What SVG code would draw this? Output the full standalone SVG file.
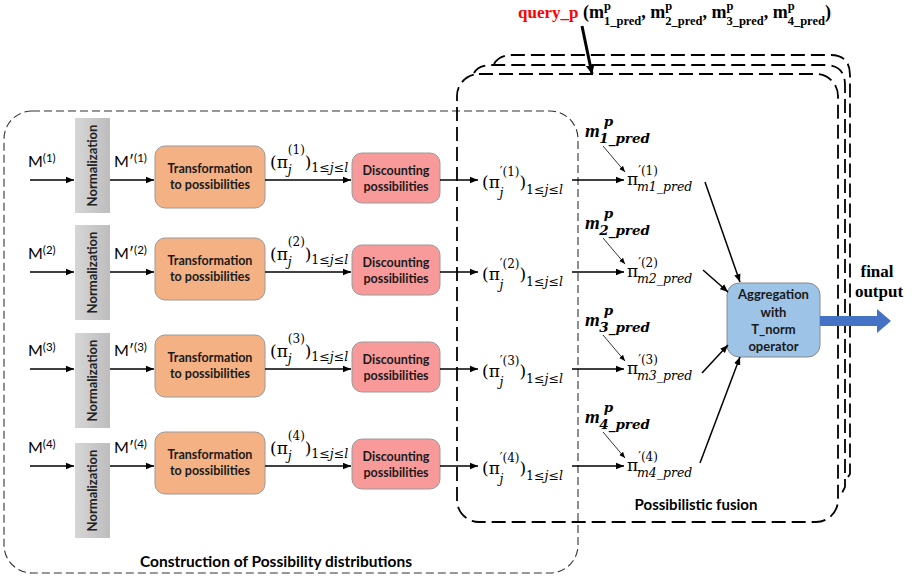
<svg xmlns="http://www.w3.org/2000/svg" width="921" height="582" viewBox="0 0 921 582">
<defs>
<linearGradient id="gray" x1="0" y1="0" x2="1" y2="0">
<stop offset="0" stop-color="#d6d6d6"/><stop offset="1" stop-color="#bdbdbd"/>
</linearGradient>
<marker id="ah" markerUnits="userSpaceOnUse" markerWidth="9" markerHeight="8" refX="8" refY="4" orient="auto">
<path d="M0,0.8 L8,4 L0,7.2 Z" fill="#000"/>
</marker>
<marker id="ahs" markerUnits="userSpaceOnUse" markerWidth="7" markerHeight="6" refX="6" refY="3" orient="auto">
<path d="M0,0.5 L6,3 L0,5.5 Z" fill="#000"/>
</marker>
<marker id="ahb" markerUnits="userSpaceOnUse" markerWidth="10" markerHeight="10" refX="9" refY="5" orient="auto">
<path d="M0,0.5 L9,5 L0,9.5 Z" fill="#000"/>
</marker>
</defs>
<style>
.norm{fill:url(#gray);}
.normt{font-family:Lato,"Liberation Sans",sans-serif;font-weight:bold;font-size:13px;fill:#222;text-anchor:middle;}
.trans{fill:#F4B183;stroke:#9a9a9a;stroke-width:1;}
.disc{fill:#F99A9A;stroke:#9a9a9a;stroke-width:1;}
.agg{fill:#9DC3E6;stroke:#8a8a8a;stroke-width:1;}
.bt{font-family:Lato,"Liberation Sans",sans-serif;font-weight:bold;font-size:12.5px;fill:#1a1a1a;text-anchor:middle;}
.bta{font-family:Lato,"Liberation Sans",sans-serif;font-weight:bold;font-size:13px;fill:#1a1a1a;text-anchor:middle;}
.ml{font-family:Lato,"Liberation Sans",sans-serif;font-size:16px;fill:#000;}
.mls{font-family:Lato,"Liberation Sans",sans-serif;font-size:11.5px;fill:#000;}
.mt{font-family:"DejaVu Serif",serif;font-size:17px;fill:#000;}
.sp{font-size:12px;}
.sb{font-size:12.5px;}
.it{font-style:italic;}
.mb{font-family:"Liberation Serif","DejaVu Serif",serif;font-size:19px;font-weight:bold;font-style:italic;fill:#000;}
.mbs{font-family:"DejaVu Serif",serif;font-size:13.5px;}
.tq{font-family:"Liberation Serif","DejaVu Serif",serif;font-size:18px;font-weight:bold;fill:#000;}
.tqs{font-size:12.5px;}
.lab{font-family:Lato,"Liberation Sans",sans-serif;font-weight:bold;font-size:15px;fill:#000;text-anchor:middle;}
.ln{stroke:#000;stroke-width:1.5;fill:none;}
.lns{stroke:#000;stroke-width:0.8;fill:none;}
.fr1{fill:none;stroke:#333;stroke-width:1.1;stroke-dasharray:8 4;}
.fr2{fill:none;stroke:#000;stroke-width:1.8;stroke-dasharray:14 6;}
</style>
<rect width="921" height="582" fill="#fff"/>

<!-- frames -->
<g id="construction-frame">
<rect class="fr1" x="4" y="111" width="574" height="462" rx="28"/>
<text class="lab" x="276" y="567" textLength="272" lengthAdjust="spacingAndGlyphs">Construction of Possibility distributions</text>
</g>
<g id="fusion-frame">
<path class="fr2" d="M494,64 Q499,55 512,55 L830,55 Q850,55 850,75 L850,474 L846,480"/>
<path class="fr2" d="M474,73 Q478,65 492,65 L825,65 Q845,65 845,85 L845,487 L840,497"/>
<rect class="fr2" x="457" y="74" width="381" height="448" rx="22"/>
<text class="lab" x="696" y="510">Possibilistic fusion</text>
</g>

<!-- top query -->
<g id="query">
<text x="518" y="18" font-family="Liberation Serif, DejaVu Serif, serif" font-size="17" font-weight="bold" fill="#FF0000">query_p</text>
<text class="tq" x="583" y="18">(m<tspan class="tqs" dy="-8">p</tspan><tspan class="tqs" dx="-7" dy="15">1_pred</tspan><tspan dy="-7">, m</tspan><tspan class="tqs" dy="-8">p</tspan><tspan class="tqs" dx="-7" dy="15">2_pred</tspan><tspan dy="-7">, m</tspan><tspan class="tqs" dy="-8">p</tspan><tspan class="tqs" dx="-7" dy="15">3_pred</tspan><tspan dy="-7">, m</tspan><tspan class="tqs" dy="-8">p</tspan><tspan class="tqs" dx="-7" dy="15">4_pred</tspan><tspan dy="-7">)</tspan></text>
</g>

<!-- normalization nodes -->
<g id="norm1"><rect class="norm" x="75" y="118" width="35" height="95"/><text class="normt" transform="translate(97,165.5) rotate(-90)">Normalization</text></g>
<g id="norm2"><rect class="norm" x="75" y="225" width="35" height="95"/><text class="normt" transform="translate(97,272.5) rotate(-90)">Normalization</text></g>
<g id="norm3"><rect class="norm" x="75" y="333" width="35" height="95"/><text class="normt" transform="translate(97,380.5) rotate(-90)">Normalization</text></g>
<g id="norm4"><rect class="norm" x="75" y="443" width="35" height="95"/><text class="normt" transform="translate(97,490.5) rotate(-90)">Normalization</text></g>

<!-- transformation nodes -->
<g id="trans1" transform="translate(0,180)"><rect class="trans" x="155" y="-34" width="110" height="62" rx="10"/><text class="bt" x="210" y="-7">Transformation</text><text class="bt" x="210" y="9">to possibilities</text></g>
<g id="trans2" transform="translate(0,272)"><rect class="trans" x="155" y="-34" width="110" height="62" rx="10"/><text class="bt" x="210" y="-7">Transformation</text><text class="bt" x="210" y="9">to possibilities</text></g>
<g id="trans3" transform="translate(0,369)"><rect class="trans" x="155" y="-34" width="110" height="62" rx="10"/><text class="bt" x="210" y="-7">Transformation</text><text class="bt" x="210" y="9">to possibilities</text></g>
<g id="trans4" transform="translate(0,466)"><rect class="trans" x="155" y="-34" width="110" height="62" rx="10"/><text class="bt" x="210" y="-7">Transformation</text><text class="bt" x="210" y="9">to possibilities</text></g>

<!-- discounting nodes -->
<g id="disc1" transform="translate(0,180)"><rect class="disc" x="352" y="-27" width="88" height="50" rx="10"/><text class="bt" x="396" y="-5">Discounting</text><text class="bt" x="396" y="11">possibilities</text></g>
<g id="disc2" transform="translate(0,272)"><rect class="disc" x="352" y="-27" width="88" height="50" rx="10"/><text class="bt" x="396" y="-5">Discounting</text><text class="bt" x="396" y="11">possibilities</text></g>
<g id="disc3" transform="translate(0,369)"><rect class="disc" x="352" y="-27" width="88" height="50" rx="10"/><text class="bt" x="396" y="-5">Discounting</text><text class="bt" x="396" y="11">possibilities</text></g>
<g id="disc4" transform="translate(0,466)"><rect class="disc" x="352" y="-27" width="88" height="50" rx="10"/><text class="bt" x="396" y="-5">Discounting</text><text class="bt" x="396" y="11">possibilities</text></g>

<!-- aggregation node -->
<g id="aggregation">
<rect class="agg" x="727" y="283" width="93" height="74" rx="12"/>
<text class="bta" x="773.5" y="299">Aggregation</text>
<text class="bta" x="773.5" y="317">with</text>
<text class="bta" x="773.5" y="334">T_norm</text>
<text class="bta" x="773.5" y="351">operator</text>
</g>

<g id="output">
<path d="M820,316 L877,316 L877,309 L891,321 L877,333 L877,326 L820,326 Z" fill="#4472C4"/>
<text x="877" y="277" font-family="Liberation Serif, DejaVu Serif, serif" font-size="17" font-weight="bold" text-anchor="middle">final</text>
<text x="879" y="297" font-family="Liberation Serif, DejaVu Serif, serif" font-size="17" font-weight="bold" text-anchor="middle">output</text>
</g>

<!-- row labels -->
<g id="labels1" transform="translate(0,180)">
<text class="ml" x="28" y="-13">M<tspan class="mls" dy="-5">(1)</tspan></text>
<text class="ml" x="114" y="-13">M′<tspan class="mls" dy="-5">(1)</tspan></text>
<text class="mt" x="270" y="-12">(π<tspan class="sp" dy="-14">(1)</tspan><tspan class="sb it" dx="-17" dy="20">j</tspan><tspan dx="13" dy="-6">)</tspan><tspan class="sb" dy="4">1≤<tspan class="it">j</tspan>≤<tspan class="it">l</tspan></tspan></text>
<text class="mt" x="482" y="8">(π<tspan class="sp" dy="-12">′(1)</tspan><tspan class="sb it" dx="-20" dy="21">j</tspan><tspan dx="16" dy="-9">)</tspan><tspan class="sb" dy="6">1≤<tspan class="it">j</tspan>≤<tspan class="it">l</tspan></tspan></text>
<text class="mt" x="627" y="5">π<tspan class="sp" dy="-10">′(1)</tspan><tspan class="sb it" dx="-21" dy="16">m1_pred</tspan></text>
<text class="mb" x="585" y="-43">m<tspan class="mbs" dx="4" dy="-11">p</tspan><tspan class="mbs" dx="-14" dy="17">1_pred</tspan></text>
</g>
<g id="labels2" transform="translate(0,272)">
<text class="ml" x="28" y="-13">M<tspan class="mls" dy="-5">(2)</tspan></text>
<text class="ml" x="114" y="-13">M′<tspan class="mls" dy="-5">(2)</tspan></text>
<text class="mt" x="270" y="-12">(π<tspan class="sp" dy="-14">(2)</tspan><tspan class="sb it" dx="-17" dy="20">j</tspan><tspan dx="13" dy="-6">)</tspan><tspan class="sb" dy="4">1≤<tspan class="it">j</tspan>≤<tspan class="it">l</tspan></tspan></text>
<text class="mt" x="482" y="8">(π<tspan class="sp" dy="-12">′(2)</tspan><tspan class="sb it" dx="-20" dy="21">j</tspan><tspan dx="16" dy="-9">)</tspan><tspan class="sb" dy="6">1≤<tspan class="it">j</tspan>≤<tspan class="it">l</tspan></tspan></text>
<text class="mt" x="627" y="5">π<tspan class="sp" dy="-10">′(2)</tspan><tspan class="sb it" dx="-21" dy="16">m2_pred</tspan></text>
<text class="mb" x="585" y="-43">m<tspan class="mbs" dx="4" dy="-11">p</tspan><tspan class="mbs" dx="-14" dy="17">2_pred</tspan></text>
</g>
<g id="labels3" transform="translate(0,369)">
<text class="ml" x="28" y="-13">M<tspan class="mls" dy="-5">(3)</tspan></text>
<text class="ml" x="114" y="-13">M′<tspan class="mls" dy="-5">(3)</tspan></text>
<text class="mt" x="270" y="-12">(π<tspan class="sp" dy="-14">(3)</tspan><tspan class="sb it" dx="-17" dy="20">j</tspan><tspan dx="13" dy="-6">)</tspan><tspan class="sb" dy="4">1≤<tspan class="it">j</tspan>≤<tspan class="it">l</tspan></tspan></text>
<text class="mt" x="482" y="8">(π<tspan class="sp" dy="-12">′(3)</tspan><tspan class="sb it" dx="-20" dy="21">j</tspan><tspan dx="16" dy="-9">)</tspan><tspan class="sb" dy="6">1≤<tspan class="it">j</tspan>≤<tspan class="it">l</tspan></tspan></text>
<text class="mt" x="627" y="5">π<tspan class="sp" dy="-10">′(3)</tspan><tspan class="sb it" dx="-21" dy="16">m3_pred</tspan></text>
<text class="mb" x="585" y="-43">m<tspan class="mbs" dx="4" dy="-11">p</tspan><tspan class="mbs" dx="-14" dy="17">3_pred</tspan></text>
</g>
<g id="labels4" transform="translate(0,466)">
<text class="ml" x="28" y="-13">M<tspan class="mls" dy="-5">(4)</tspan></text>
<text class="ml" x="114" y="-13">M′<tspan class="mls" dy="-5">(4)</tspan></text>
<text class="mt" x="270" y="-12">(π<tspan class="sp" dy="-14">(4)</tspan><tspan class="sb it" dx="-17" dy="20">j</tspan><tspan dx="13" dy="-6">)</tspan><tspan class="sb" dy="4">1≤<tspan class="it">j</tspan>≤<tspan class="it">l</tspan></tspan></text>
<text class="mt" x="482" y="8">(π<tspan class="sp" dy="-12">′(4)</tspan><tspan class="sb it" dx="-20" dy="21">j</tspan><tspan dx="16" dy="-9">)</tspan><tspan class="sb" dy="6">1≤<tspan class="it">j</tspan>≤<tspan class="it">l</tspan></tspan></text>
<text class="mt" x="627" y="5">π<tspan class="sp" dy="-10">′(4)</tspan><tspan class="sb it" dx="-21" dy="16">m4_pred</tspan></text>
<text class="mb" x="585" y="-43">m<tspan class="mbs" dx="4" dy="-11">p</tspan><tspan class="mbs" dx="-14" dy="17">4_pred</tspan></text>
</g>

<!-- connectors -->
<g id="connectors">
<line x1="582" y1="26" x2="592" y2="74" stroke="#000" stroke-width="3" marker-end="url(#ahb)"/>
<g transform="translate(0,180)">
<line class="ln" x1="30" y1="0" x2="74" y2="0" marker-end="url(#ah)"/>
<line class="ln" x1="110" y1="0" x2="154" y2="0" marker-end="url(#ah)"/>
<line class="ln" x1="265" y1="0" x2="351" y2="0" marker-end="url(#ah)"/>
<line class="ln" x1="440" y1="0" x2="478" y2="0" marker-end="url(#ah)"/>
<line class="ln" x1="572" y1="0" x2="624" y2="0" marker-end="url(#ah)"/>
<line class="lns" x1="603" y1="-34" x2="625" y2="-8" marker-end="url(#ahs)"/>
</g>
<g transform="translate(0,272)">
<line class="ln" x1="30" y1="0" x2="74" y2="0" marker-end="url(#ah)"/>
<line class="ln" x1="110" y1="0" x2="154" y2="0" marker-end="url(#ah)"/>
<line class="ln" x1="265" y1="0" x2="351" y2="0" marker-end="url(#ah)"/>
<line class="ln" x1="440" y1="0" x2="478" y2="0" marker-end="url(#ah)"/>
<line class="ln" x1="572" y1="0" x2="624" y2="0" marker-end="url(#ah)"/>
<line class="lns" x1="603" y1="-34" x2="625" y2="-8" marker-end="url(#ahs)"/>
</g>
<g transform="translate(0,369)">
<line class="ln" x1="30" y1="0" x2="74" y2="0" marker-end="url(#ah)"/>
<line class="ln" x1="110" y1="0" x2="154" y2="0" marker-end="url(#ah)"/>
<line class="ln" x1="265" y1="0" x2="351" y2="0" marker-end="url(#ah)"/>
<line class="ln" x1="440" y1="0" x2="478" y2="0" marker-end="url(#ah)"/>
<line class="ln" x1="572" y1="0" x2="624" y2="0" marker-end="url(#ah)"/>
<line class="lns" x1="603" y1="-34" x2="625" y2="-8" marker-end="url(#ahs)"/>
</g>
<g transform="translate(0,466)">
<line class="ln" x1="30" y1="0" x2="74" y2="0" marker-end="url(#ah)"/>
<line class="ln" x1="110" y1="0" x2="154" y2="0" marker-end="url(#ah)"/>
<line class="ln" x1="265" y1="0" x2="351" y2="0" marker-end="url(#ah)"/>
<line class="ln" x1="440" y1="0" x2="478" y2="0" marker-end="url(#ah)"/>
<line class="ln" x1="572" y1="0" x2="624" y2="0" marker-end="url(#ah)"/>
<line class="lns" x1="603" y1="-34" x2="625" y2="-8" marker-end="url(#ahs)"/>
</g>
<line class="ln" x1="705" y1="182" x2="740" y2="282" marker-end="url(#ah)"/>
<line class="ln" x1="703" y1="270" x2="728" y2="292" marker-end="url(#ah)"/>
<line class="ln" x1="702" y1="373" x2="728" y2="345" marker-end="url(#ah)"/>
<line class="ln" x1="700" y1="463" x2="740" y2="357" marker-end="url(#ah)"/>
</g>
</svg>
